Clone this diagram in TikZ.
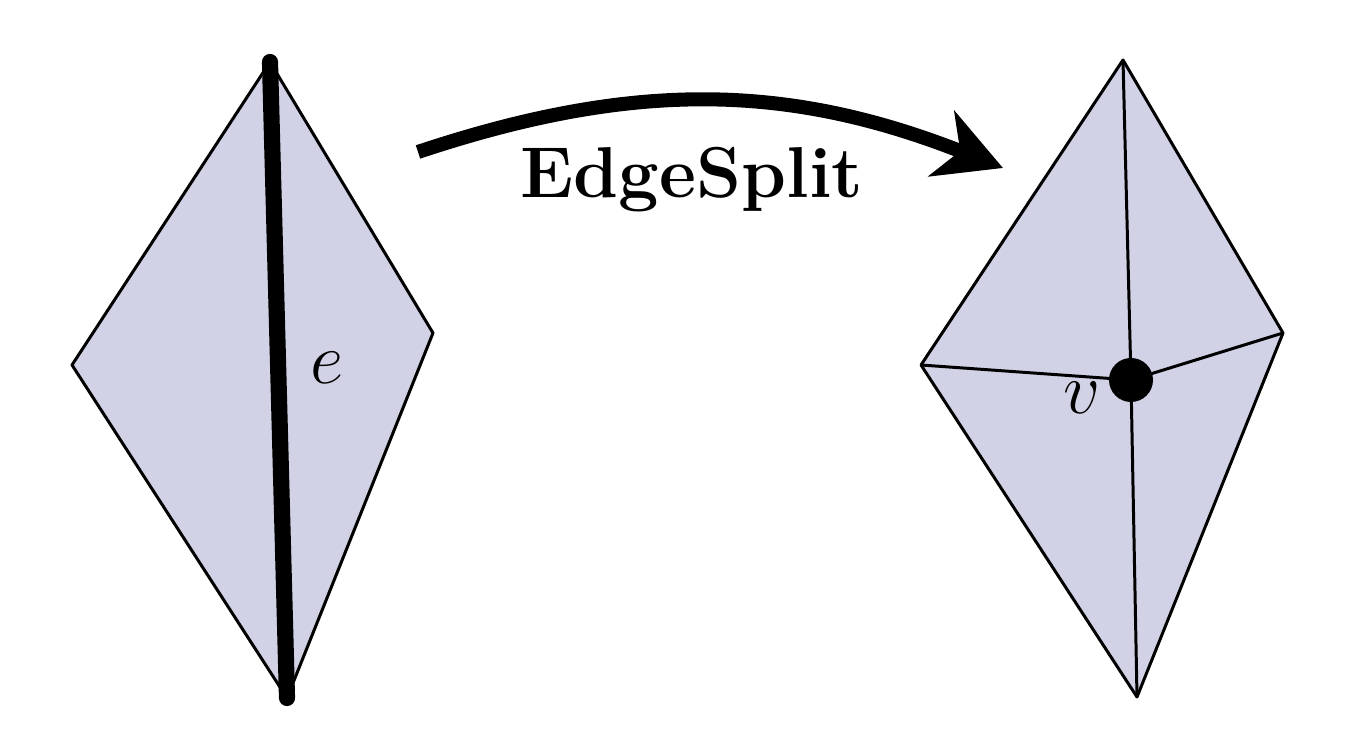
\documentclass[tikz,border=0pt]{standalone}
\usetikzlibrary{arrows.meta}
\definecolor{facefill}{RGB}{210,210,230}
\tikzset{
	face/.style = {fill=facefill, draw=black, line width=0.85pt, line join=round},% triangle face
	mesh_e/.style = {line width=0.85pt},% thin mesh edge
	split_e/.style = {line width=4.6pt, line cap=round},% edge to split
	split_v/.style = {circle, fill=black, inner sep=0pt, minimum size=0.44cm},% new vertex
	lbl/.style = {font=\fontsize{20}{24}\selectfont, inner sep=0pt}
}
\begin{document}
\begin{tikzpicture}
	\useasboundingbox (0,0) rectangle (13.56,7.54);
	% before
	\coordinate (lt) at (2.70,6.92);
	\coordinate (ll) at (0.72,3.89);
	\coordinate (lb) at (2.87,0.56);
	\coordinate (lr) at (4.33,4.21);
	\draw[face] (lt) -- (ll) -- (lb) -- (lr) -- cycle;
	\draw[split_e] (lt) -- (lb);
	\node[lbl] (e) at (3.27,3.86) {$e$};
	% after
	\coordinate (rt) at (11.23,6.94);
	\coordinate (rl) at (9.21,3.89);
	\coordinate (rb) at (11.37,0.57);
	\coordinate (rr) at (12.83,4.21);
	\draw[face] (rt) -- (rl) -- (rb) -- (rr) -- cycle;
	\node[split_v] (v) at (11.31,3.74) {};
	\draw[mesh_e] (v.center) -- (rt) (v.center) -- (rl) (v.center) -- (rb) (v.center) -- (rr);
	\node[lbl] (vl) at (10.82,3.56) {$v$};
	% operation
	\coordinate (from) at (4.18,6.02);
	\coordinate (to) at (10.03,5.86);
	\draw[line width=4pt, -{Stealth[length=0.66cm, width=0.7cm, inset=0.2cm]}]
		(from) to[bend left=20] (to);
	\node[font=\fontsize{20.5}{24}\selectfont\bfseries] (op) at (6.92,5.74) {EdgeSplit};
\end{tikzpicture}
\end{document}
